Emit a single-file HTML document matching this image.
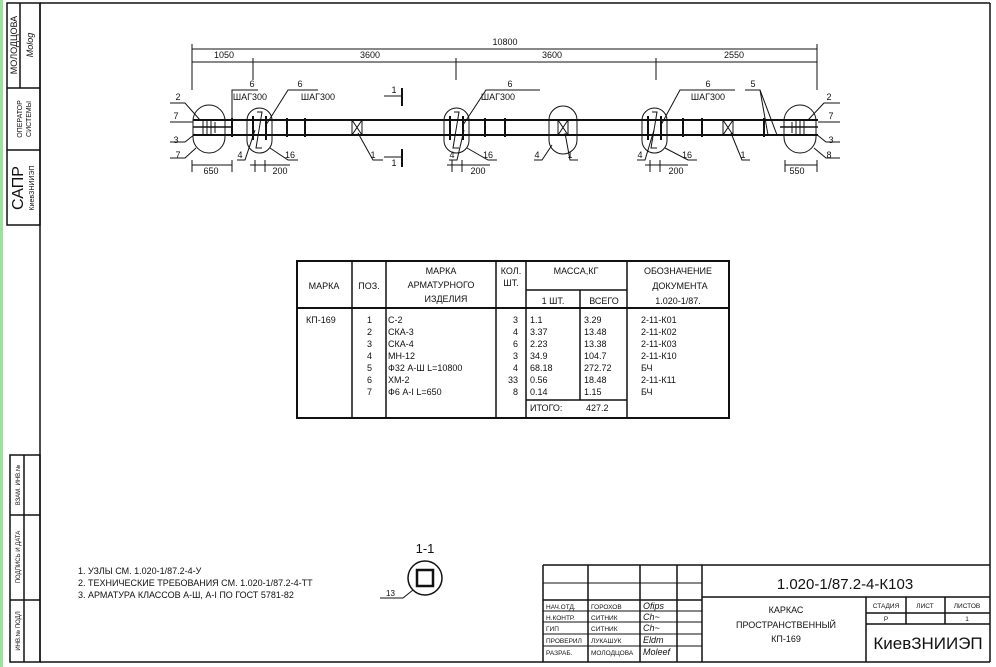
<!DOCTYPE html>
<html><head><meta charset="utf-8"><style>
html,body{margin:0;padding:0;background:#fff}
svg{display:block}
text{font-family:"Liberation Sans",sans-serif;fill:#111}
</style></head><body>
<svg width="996" height="667" viewBox="0 0 996 667" xmlns="http://www.w3.org/2000/svg">
<rect width="996" height="667" fill="#fff"/>
<rect x="0" y="0" width="3" height="667" fill="#9be39b"/>
<g stroke="#111" fill="none" stroke-width="1.5">
<line x1="40" y1="3" x2="990" y2="3"/>
<line x1="40" y1="3" x2="40" y2="662"/>
<line x1="40" y1="662" x2="990" y2="662"/>
<line x1="990" y1="3" x2="990" y2="662"/>
<rect x="7" y="3" width="33" height="222"/>
<line x1="20" y1="3" x2="20" y2="88"/>
<line x1="7" y1="88" x2="40" y2="88"/>
<line x1="7" y1="150" x2="40" y2="150"/>
<rect x="10" y="455" width="30" height="207"/>
<line x1="24" y1="455" x2="24" y2="662"/>
<line x1="10" y1="515" x2="40" y2="515"/>
<line x1="10" y1="600" x2="40" y2="600"/>
</g>
<g font-size="8" text-anchor="middle">
<text transform="translate(17,45) rotate(-90)" font-size="9">МОЛОДЦОВА</text>
<text transform="translate(33,45) rotate(-90)" font-style="italic" font-size="9">Molog</text>
<text transform="translate(22,119) rotate(-90)" font-size="7">ОПЕРАТОР</text>
<text transform="translate(31,119) rotate(-90)" font-size="7">СИСТЕМЫ</text>
<text transform="translate(23,188) rotate(-90)" font-size="16">САПР</text>
<text transform="translate(34,188) rotate(-90)" font-size="7">КиевЗНИИЭП</text>
<text transform="translate(20,485) rotate(-90)" font-size="6">ВЗАМ. ИНВ.№</text>
<text transform="translate(20,557) rotate(-90)" font-size="6">ПОДПИСЬ И ДАТА</text>
<text transform="translate(20,631) rotate(-90)" font-size="6">ИНВ.№ ПОДЛ</text>
</g>

<g stroke="#111" fill="none" stroke-width="1">
<line x1="192" y1="49" x2="817" y2="49"/>
<line x1="192" y1="62" x2="817" y2="62"/>
<line x1="192" y1="44" x2="192" y2="90"/>
<line x1="817" y1="44" x2="817" y2="90"/>
<line x1="253" y1="58" x2="253" y2="80"/>
<line x1="456" y1="58" x2="456" y2="80"/>
<line x1="656" y1="58" x2="656" y2="80"/>
<line x1="193" y1="120" x2="818" y2="120" stroke-width="2"/>
<line x1="193" y1="135" x2="818" y2="135" stroke-width="2"/>
<line x1="193" y1="127" x2="232" y2="127" stroke-width="1.5"/>
<line x1="780" y1="127" x2="818" y2="127" stroke-width="1.5"/>
<rect x="193" y="105" width="32" height="48" rx="16"/>
<rect x="247" y="108" width="25" height="45" rx="12.5"/>
<rect x="444" y="108" width="25" height="45" rx="12.5"/>
<rect x="549" y="106" width="28" height="48" rx="14"/>
<rect x="642" y="108" width="25" height="45" rx="12.5"/>
<rect x="784" y="105" width="32" height="48" rx="16"/>
<g stroke-width="1">
<line x1="203" y1="120" x2="203" y2="135"/><line x1="207" y1="120" x2="207" y2="135"/><line x1="211" y1="120" x2="211" y2="135"/><line x1="215" y1="122" x2="215" y2="133"/>
<line x1="796" y1="120" x2="796" y2="135"/><line x1="800" y1="120" x2="800" y2="135"/><line x1="804" y1="120" x2="804" y2="135"/><line x1="792" y1="122" x2="792" y2="133"/>
</g>
<g stroke-width="2">
<line x1="232" y1="118" x2="232" y2="137"/>
<line x1="253" y1="116" x2="253" y2="140"/><line x1="266" y1="116" x2="266" y2="140"/>
<line x1="287" y1="118" x2="287" y2="137"/><line x1="305" y1="118" x2="305" y2="137"/>
<line x1="450" y1="116" x2="450" y2="140"/><line x1="463" y1="116" x2="463" y2="140"/>
<line x1="485" y1="118" x2="485" y2="137"/><line x1="505" y1="118" x2="505" y2="137"/>
<line x1="648" y1="116" x2="648" y2="140"/><line x1="661" y1="116" x2="661" y2="140"/>
<line x1="683" y1="118" x2="683" y2="137"/><line x1="702" y1="118" x2="702" y2="137"/>
<line x1="764" y1="118" x2="764" y2="137"/>
</g>
<polyline points="257,112 262,112 256,148 262,148"/>
<polyline points="454,112 459,112 453,148 459,148"/>
<polyline points="652,112 657,112 651,148 657,148"/>
<rect x="352" y="120" width="10" height="15"/><line x1="352" y1="120" x2="362" y2="135"/><line x1="362" y1="120" x2="352" y2="135"/>
<rect x="558" y="120" width="10" height="15"/><line x1="558" y1="120" x2="568" y2="135"/><line x1="568" y1="120" x2="558" y2="135"/>
<rect x="723" y="120" width="10" height="15"/><line x1="723" y1="120" x2="733" y2="135"/><line x1="733" y1="120" x2="723" y2="135"/>
<line x1="384" y1="96" x2="402" y2="96"/><line x1="402" y1="88" x2="402" y2="106" stroke-width="2"/>
<line x1="384" y1="157" x2="402" y2="157"/><line x1="402" y1="149" x2="402" y2="167" stroke-width="2"/>
<polyline points="232,118 232,90 258,90"/>
<polyline points="266,125 288,90 318,90"/>
<polyline points="463,125 486,90 540,90"/>
<polyline points="661,125 680,90 735,90"/>
<polyline points="745,90 760,90 777,135"/>
<line x1="760" y1="90" x2="768" y2="135"/>
<polyline points="170,103 185,103 200,120"/>
<polyline points="170,122 193,122"/>
<polyline points="170,142 185,142 195,134"/>
<polyline points="170,158 185,158 196,148"/>
<polyline points="840,103 824,103 808,120"/>
<polyline points="840,122 818,122"/>
<polyline points="840,142 826,142 816,134"/>
<polyline points="840,158 826,158 814,148"/>
<polyline points="237,160 245,160 255,130"/>
<polyline points="449,160 457,160 464,130"/>
<polyline points="534,160 542,160 552,145"/>
<polyline points="637,160 645,160 654,130"/>
<polyline points="298,160 288,160 270,148"/>
<polyline points="497,160 488,160 467,148"/>
<polyline points="697,160 688,160 665,148"/>
<polyline points="383,160 373,160 358,133"/>
<polyline points="578,160 570,160 565,133"/>
<polyline points="750,160 742,160 731,133"/>
<line x1="192" y1="165" x2="232" y2="165"/><line x1="192" y1="160" x2="192" y2="172"/><line x1="232" y1="160" x2="232" y2="172"/>
<line x1="250" y1="165" x2="290" y2="165"/><line x1="255" y1="160" x2="255" y2="172"/><line x1="265" y1="160" x2="265" y2="172"/>
<line x1="447" y1="165" x2="490" y2="165"/><line x1="452" y1="160" x2="452" y2="172"/><line x1="462" y1="160" x2="462" y2="172"/>
<line x1="645" y1="165" x2="688" y2="165"/><line x1="650" y1="160" x2="650" y2="172"/><line x1="660" y1="160" x2="660" y2="172"/>
<line x1="785" y1="165" x2="817" y2="165"/><line x1="785" y1="160" x2="785" y2="172"/><line x1="817" y1="160" x2="817" y2="172"/>
</g>
<g font-size="9" text-anchor="middle">
<text x="505" y="45">10800</text>
<text x="224" y="58">1050</text><text x="370" y="58">3600</text><text x="552" y="58">3600</text><text x="734" y="58">2550</text>
<text x="252" y="87">6</text><text x="250" y="100">ШАГ300</text>
<text x="300" y="87">6</text><text x="318" y="100">ШАГ300</text>
<text x="510" y="87">6</text><text x="498" y="100">ШАГ300</text>
<text x="708" y="87">6</text><text x="708" y="100">ШАГ300</text>
<text x="753" y="87">5</text>
<text x="394" y="93">1</text><text x="394" y="166">1</text>
<text x="178" y="100">2</text><text x="176" y="119">7</text><text x="176" y="143">3</text><text x="178" y="158">7</text>
<text x="829" y="100">2</text><text x="831" y="119">7</text><text x="831" y="143">3</text><text x="829" y="158">8</text>
<text x="240" y="158">4</text><text x="452" y="158">4</text><text x="537" y="158">4</text><text x="640" y="158">4</text>
<text x="290" y="158">16</text><text x="488" y="158">16</text><text x="687" y="158">16</text>
<text x="373" y="158">1</text><text x="570" y="158">1</text><text x="743" y="158">1</text>
<text x="211" y="174">650</text><text x="280" y="174">200</text><text x="478" y="174">200</text><text x="676" y="174">200</text><text x="797" y="174">550</text>
</g>

<g stroke="#111" fill="none" stroke-width="2">
<rect x="297" y="261" width="432" height="157"/>
<line x1="297" y1="308" x2="729" y2="308"/>
<g stroke-width="1.5">
<line x1="352" y1="261" x2="352" y2="418"/>
<line x1="386" y1="261" x2="386" y2="418"/>
<line x1="496" y1="261" x2="496" y2="418"/>
<line x1="526" y1="261" x2="526" y2="418"/>
<line x1="627" y1="261" x2="627" y2="418"/>
<line x1="526" y1="290" x2="627" y2="290"/>
<line x1="580" y1="290" x2="580" y2="400"/>
<line x1="526" y1="400" x2="627" y2="400"/>
</g>
</g>
<g font-size="9">
<g text-anchor="middle">
<text x="324" y="289">МАРКА</text><text x="369" y="289">ПОЗ.</text>
<text x="441" y="274">МАРКА</text><text x="441" y="288">АРМАТУРНОГО</text><text x="446" y="302">ИЗДЕЛИЯ</text>
<text x="511" y="274">КОЛ.</text><text x="511" y="286">ШТ.</text>
<text x="576" y="274">МАССА,КГ</text>
<text x="553" y="304">1 ШТ.</text><text x="604" y="304">ВСЕГО</text>
<text x="678" y="274">ОБОЗНАЧЕНИЕ</text><text x="680" y="289">ДОКУМЕНТА</text><text x="678" y="304">1.020-1/87.</text>
</g>
<text x="306" y="323">КП-169</text>
<g text-anchor="end">
<text x="372" y="323">1</text><text x="372" y="335">2</text><text x="372" y="347">3</text><text x="372" y="359">4</text><text x="372" y="371">5</text><text x="372" y="383">6</text><text x="372" y="395">7</text>
<text x="518" y="323">3</text><text x="518" y="335">4</text><text x="518" y="347">6</text><text x="518" y="359">3</text><text x="518" y="371">4</text><text x="518" y="383">33</text><text x="518" y="395">8</text>
</g>
<text x="388" y="323">С-2</text><text x="388" y="335">СКА-3</text><text x="388" y="347">СКА-4</text><text x="388" y="359">МН-12</text><text x="388" y="371">Ф32 А-Ш L=10800</text><text x="388" y="383">ХМ-2</text><text x="388" y="395">Ф6 А-I L=650</text>
<text x="530" y="323">1.1</text><text x="530" y="335">3.37</text><text x="530" y="347">2.23</text><text x="530" y="359">34.9</text><text x="530" y="371">68.18</text><text x="530" y="383">0.56</text><text x="530" y="395">0.14</text>
<text x="584" y="323">3.29</text><text x="584" y="335">13.48</text><text x="584" y="347">13.38</text><text x="584" y="359">104.7</text><text x="584" y="371">272.72</text><text x="584" y="383">18.48</text><text x="584" y="395">1.15</text>
<text x="530" y="411">ИТОГО:</text><text x="586" y="411">427.2</text>
<text x="641" y="323">2-11-К01</text><text x="641" y="335">2-11-К02</text><text x="641" y="347">2-11-К03</text><text x="641" y="359">2-11-К10</text><text x="641" y="371">БЧ</text><text x="641" y="383">2-11-К11</text><text x="641" y="395">БЧ</text>
</g>

<g font-size="9">
<text x="78" y="574">1. УЗЛЫ СМ. 1.020-1/87.2-4-У</text>
<text x="78" y="586">2. ТЕХНИЧЕСКИЕ ТРЕБОВАНИЯ СМ. 1.020-1/87.2-4-ТТ</text>
<text x="78" y="598">3. АРМАТУРА КЛАССОВ А-Ш, А-I ПО ГОСТ 5781-82</text>
</g>
<text x="425" y="553" font-size="13" text-anchor="middle">1-1</text>
<g stroke="#111" fill="none">
<circle cx="425" cy="578" r="17" stroke-width="1.5"/>
<rect x="417" y="570" width="16" height="16" stroke-width="2.5"/>
<polyline points="380,598 403,598 413,590" stroke-width="1"/>
</g>
<text x="386" y="596" font-size="8">13</text>

<g stroke="#111" fill="none" stroke-width="1.5">
<line x1="543" y1="565" x2="990" y2="565"/>
<line x1="543" y1="565" x2="543" y2="662"/>
<line x1="588" y1="565" x2="588" y2="662"/>
<line x1="640" y1="565" x2="640" y2="662"/>
<line x1="677" y1="565" x2="677" y2="662"/>
<line x1="702" y1="565" x2="702" y2="662"/>
<line x1="543" y1="583" x2="702" y2="583" stroke-width="1"/>
<line x1="543" y1="600" x2="702" y2="600"/>
<g stroke-width="1">
<line x1="543" y1="611" x2="702" y2="611"/>
<line x1="543" y1="622" x2="702" y2="622"/>
<line x1="543" y1="634" x2="702" y2="634"/>
<line x1="543" y1="646" x2="702" y2="646"/>
</g>
<line x1="702" y1="597" x2="990" y2="597"/>
<line x1="866" y1="597" x2="866" y2="662"/>
<line x1="866" y1="613" x2="990" y2="613"/>
<line x1="866" y1="624" x2="990" y2="624"/>
<line x1="906" y1="597" x2="906" y2="624"/>
<line x1="945" y1="597" x2="945" y2="624"/>
</g>
<g font-size="6.5">
<text x="546" y="609">НАЧ.ОТД.</text><text x="591" y="609">ГОРОХОВ</text>
<text x="546" y="620">Н.КОНТР.</text><text x="591" y="620">СИТНИК</text>
<text x="546" y="631">ГИП</text><text x="591" y="631">СИТНИК</text>
<text x="546" y="643">ПРОВЕРИЛ</text><text x="591" y="643">ЛУКАШУК</text>
<text x="546" y="655">РАЗРАБ.</text><text x="591" y="655">МОЛОДЦОВА</text>
</g>
<g font-size="9" font-style="italic" fill="#111">
<text x="643" y="609">Ofips</text><text x="643" y="620">Ch~</text><text x="643" y="631">Ch~</text><text x="643" y="643">Eldm</text><text x="643" y="655">Moleef</text>
</g>
<text x="845" y="589" font-size="15" text-anchor="middle">1.020-1/87.2-4-К103</text>
<g font-size="9" text-anchor="middle">
<text x="786" y="613">КАРКАС</text>
<text x="786" y="628">ПРОСТРАНСТВЕННЫЙ</text>
<text x="786" y="642">КП-169</text>
</g>
<g font-size="6.5" text-anchor="middle">
<text x="886" y="608">СТАДИЯ</text><text x="925" y="608">ЛИСТ</text><text x="967" y="608">ЛИСТОВ</text>
<text x="886" y="621">Р</text><text x="967" y="621">1</text>
</g>
<text x="928" y="649" font-size="17" text-anchor="middle">КиевЗНИИЭП</text>
</svg>
</body></html>
